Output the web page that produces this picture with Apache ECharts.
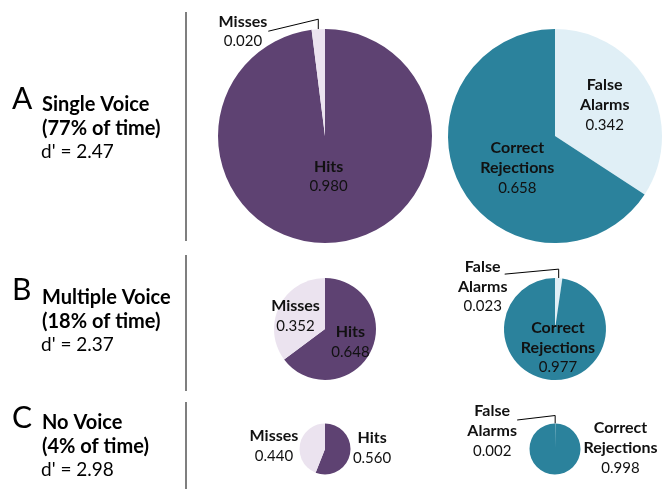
<!DOCTYPE html>
<html>
<head>
<meta charset="utf-8"/>
<style>
html, body { margin: 0; padding: 0; background: #fff; }
#main { width: 667px; height: 489px; }
</style>
</head>
<body>
<div id="main"></div>
<script src="https://cdn.jsdelivr.net/npm/echarts@6/dist/echarts.min.js"></script>
<script type="text/javascript">
// panel texts
var panelLetters = ['A', 'B', 'C'];
var panelTitles = ['Single Voice', 'Multiple Voice', 'No Voice'];
var timeShares = ['77%', '18%', '4%'];
var dPrimes = ['2.47', '2.37', '2.98'];

// voice present: hits / misses
var hits = [0.980, 0.648, 0.560];
var misses = [0.020, 0.352, 0.440];
// voice absent: false alarms / correct rejections
var falseAlarms = [0.342, 0.023, 0.002];
var correctRejections = [0.658, 0.977, 0.998];

var FONT = 'Lato';
var PURPLE = '#5e4272', LAVENDER = '#ebe3ef', TEAL = '#2b829c', ICE = '#e0eff6';
var INK = '#111';

// layout of the three rows
var rowY = [136, 329, 449];
var rowR = [107, 51, 25.5];
var leftX = 325, rightX = 555;
var headY = [105, 298, 423];
var letterY = [101, 292, 420];
var sepY = [[12, 241], [255, 391], [402, 489]];

// label settings per row: [voice present pie, voice absent pie]
// leader: callout line going up from the slice then across to the text
var labelCfg = [
  [
    { Hits: { pos: 'inside', w: 40, pad: [0, 0, 32, 0] },
      Misses: { pos: 'outside', w: 48, pad: 0, line: true, leader: { up: 10, dx: -50, dy: 2, tx: -1, ty: 0 } } },
    { 'False Alarms': { pos: 'inside', w: 52, pad: [0, 0, 8, 0] },
      'Correct Rejections': { pos: 'inside', w: 74, pad: [10, 0, 0, 24] } }
  ],
  [
    { Hits: { pos: 'inside', w: 40, pad: 0 },
      Misses: { pos: 'inside', w: 48, pad: [0, 8, 0, 0] } },
    { 'False Alarms': { pos: 'outside', w: 50, pad: 0, line: true, leader: { up: 9, dx: -54, dy: -4, tx: 3, ty: 12 } },
      'Correct Rejections': { pos: 'inside', w: 74, pad: [0, 0, 20, 10] } }
  ],
  [
    { Hits: { pos: 'outside', w: 40, pad: [0, 0, 12, 0] },
      Misses: { pos: 'outside', w: 48, pad: [4, 0, 0, 0] } },
    { 'False Alarms': { pos: 'outside', w: 50, pad: 0, line: true, leader: { up: 8, dx: -38, dy: -3.5, tx: 0, ty: 11 } },
      'Correct Rejections': { pos: 'inside', w: 74, pad: 0, beside: { gap: 40, dy: -1 } } }
  ]
];

// callout paths collected from the pie's own label geometry
var leaderPaths = {};

function sliceLabel(cfg) {
  return {
    show: true,
    position: cfg.pos,
    padding: cfg.pad,
    distanceToLabelLine: 2,
    formatter: function (p) {
      var words = p.name.split(' ').map(function (s) { return '{n|' + s + '}'; });
      return words.join('\n') + '\n{v|' + p.value.toFixed(3) + '}';
    },
    rich: {
      n: { fontFamily: FONT, fontWeight: 'bold', fontSize: 16, lineHeight: 20, color: INK, width: cfg.w, align: 'center' },
      v: { fontFamily: FONT, fontSize: 15, lineHeight: 20, color: INK, width: cfg.w, align: 'center' }
    }
  };
}

function slice(name, value, color, cfg) {
  return {
    name: name,
    value: value,
    itemStyle: { color: color },
    label: sliceLabel(cfg),
    // built-in line kept for its anchor points only, the visible callout is drawn below
    labelLine: cfg.line
      ? { show: true, length: 10, length2: 20, lineStyle: { opacity: 0 } }
      : { show: false, length: 0, length2: 0 }
  };
}

function layoutFor(row, side) {
  return function (p) {
    var names = side ? ['False Alarms', 'Correct Rejections'] : ['Hits', 'Misses'];
    var cfg = labelCfg[row][side][names[p.dataIndex]];
    var out = { hideOverlap: false, moveOverlap: false };
    if (cfg.leader && p.labelLinePoints) {
      var L = cfg.leader;
      var p0 = p.labelLinePoints[0];
      var p1 = [p0[0], p0[1] - L.up];
      var p2 = [p0[0] + L.dx, p0[1] + L.dy];
      leaderPaths[row + '-' + side] = [[p0[0], p0[1]], p1, p2];
      var r = p.labelRect;
      var anchorX = p.align === 'right' ? r.x + r.width : r.x;
      out.align = 'right';
      out.dx = p2[0] + L.tx - anchorX;
      out.dy = p2[1] + L.ty - (r.y + r.height / 2);
    }
    if (cfg.beside) {
      out.x = p.rect.x + p.rect.width + cfg.beside.gap;
      out.y = p.rect.y + p.rect.height / 2 + cfg.beside.dy;
      out.align = 'center';
      out.verticalAlign = 'middle';
    }
    return out;
  };
}

function pie(row, side, cx, data) {
  return {
    type: 'pie',
    center: [cx, rowY[row]],
    radius: rowR[row],
    startAngle: 90,
    clockwise: true,
    avoidLabelOverlap: false,
    silent: true,
    itemStyle: { borderWidth: 0 },
    labelLayout: layoutFor(row, side),
    data: data
  };
}

var series = [];
for (var i = 0; i < 3; i++) {
  var lc = labelCfg[i][0], rc = labelCfg[i][1];
  series.push(pie(i, 0, leftX, [
    slice('Hits', hits[i], PURPLE, lc.Hits),
    slice('Misses', misses[i], LAVENDER, lc.Misses)
  ]));
  series.push(pie(i, 1, rightX, [
    slice('False Alarms', falseAlarms[i], ICE, rc['False Alarms']),
    slice('Correct Rejections', correctRejections[i], TEAL, rc['Correct Rejections'])
  ]));
}

var graphics = [];
for (var k = 0; k < 3; k++) {
  graphics.push({
    type: 'text', left: 12, top: letterY[k] - 17,
    style: { text: panelLetters[k], font: '30px ' + FONT, fill: '#000' }
  });
  graphics.push({
    type: 'text', x: 42, y: headY[k],
    style: { text: panelTitles[k], font: 'bold 20px ' + FONT, fill: '#000', verticalAlign: 'middle' }
  });
  graphics.push({
    type: 'text', x: 42, y: headY[k] + 24,
    style: { text: '(' + timeShares[k] + ' of time)', font: 'bold 20px ' + FONT, fill: '#000', verticalAlign: 'middle' }
  });
  graphics.push({
    type: 'text', x: 41, y: headY[k] + 47,
    style: { text: "d' = " + dPrimes[k], font: '19px ' + FONT, fill: '#000', verticalAlign: 'middle' }
  });
  graphics.push({
    type: 'line',
    shape: { x1: 186, y1: sepY[k][0], x2: 186, y2: sepY[k][1] },
    style: { stroke: '#555', lineWidth: 1.5 }
  });
}

var myChart = echarts.init(document.getElementById('main'));
myChart.setOption({
  animation: false,
  backgroundColor: '#fff',
  graphic: graphics,
  series: series
});

// add the callout lines once the pies have laid out their labels
var callouts = Object.keys(leaderPaths).map(function (key) {
  return {
    type: 'polyline',
    silent: true,
    shape: { points: leaderPaths[key] },
    style: { stroke: '#000', lineWidth: 1, fill: null }
  };
});
myChart.setOption({ graphic: graphics.concat(callouts) });
</script>
</body>
</html>
